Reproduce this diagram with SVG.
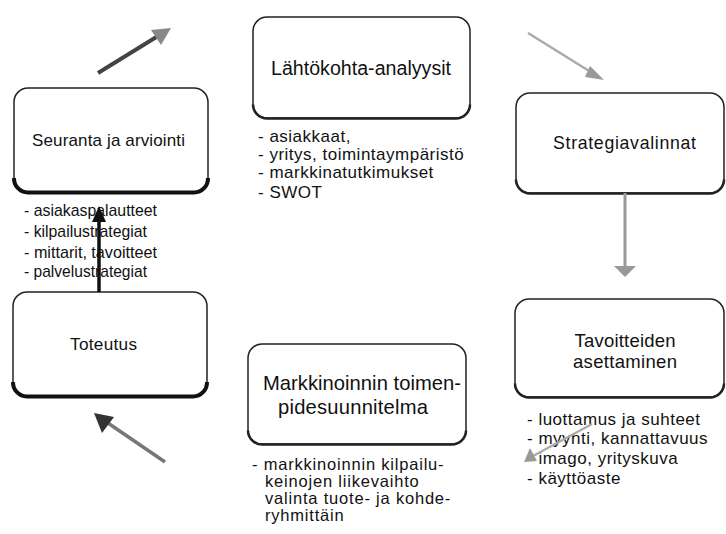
<svg xmlns="http://www.w3.org/2000/svg" width="726" height="534" viewBox="0 0 726 534">
<style>
.box{fill:#fff;stroke:#222;stroke-width:1.5}
.sh{fill:none;stroke:#222;stroke-width:2.5}
.sh2{fill:none;stroke:#111;stroke-width:4}
.t{font-family:"Liberation Sans",Arial,sans-serif;fill:#111;text-anchor:middle}
.a{font-family:"Liberation Sans",Arial,sans-serif;font-size:17px;fill:#111;letter-spacing:0.5px}
.m{font-family:"Liberation Sans",Arial,sans-serif;font-size:16.5px;fill:#111;letter-spacing:0.8px}
.n{font-family:"Liberation Sans",Arial,sans-serif;font-size:17px;fill:#111}
</style>
<rect width="726" height="534" fill="#fff"/>
<g id="n-lahtokohta">
<rect class="box" x="253" y="17" width="217" height="101" rx="14"/>
<path class="sh" d="M253,104.5 A14,14 0 0 0 267,118.5 L456,118.5 A14,14 0 0 0 470,104.5"/>
<text class="t" x="361" y="75" style="font-size:19.6px" textLength="180" lengthAdjust="spacing">Lähtökohta-analyysit</text>
<text class="a" x="258" y="142">- asiakkaat,</text>
<text class="a" x="258" y="160">- yritys, toimintaympäristö</text>
<text class="a" x="258" y="178">- markkinatutkimukset</text>
<text class="a" x="258" y="198">- SWOT</text>
</g>
<g id="n-strategia">
<rect class="box" x="516" y="93" width="208" height="100" rx="14"/>
<path class="sh" d="M516,179.5 A14,14 0 0 0 530,193.5 L710,193.5 A14,14 0 0 0 724,179.5"/>
<text class="t" x="624.5" y="149" style="font-size:17.7px" textLength="143" lengthAdjust="spacing">Strategiavalinnat</text>
</g>
<g id="n-tavoitteet">
<rect class="box" x="515" y="299" width="209" height="98" rx="14"/>
<path class="sh" d="M515,383.5 A14,14 0 0 0 529,397.5 L710,397.5 A14,14 0 0 0 724,383.5"/>
<text class="t" x="625" y="347" style="font-size:18.5px" textLength="101" lengthAdjust="spacing">Tavoitteiden</text>
<text class="t" x="625" y="368" style="font-size:18.5px" textLength="104" lengthAdjust="spacing">asettaminen</text>
<text class="a" x="527" y="425">- luottamus ja suhteet</text>
<text class="a" x="527" y="444">- myynti, kannattavuus</text>
<text class="a" x="527" y="464">- imago, yrityskuva</text>
<text class="a" x="527" y="484">- käyttöaste</text>
</g>
<g id="n-toimenpide">
<rect class="box" x="248" y="344" width="218" height="100" rx="14"/>
<path class="sh" d="M248,430.5 A14,14 0 0 0 262,444.5 L452,444.5 A14,14 0 0 0 466,430.5"/>
<text class="t" x="362" y="390" style="font-size:20.2px" textLength="198" lengthAdjust="spacing">Markkinoinnin toimen-</text>
<text class="t" x="353" y="414" style="font-size:20.2px" textLength="150" lengthAdjust="spacing">pidesuunnitelma</text>
<text class="m" x="252" y="470">- markkinoinnin kilpailu-</text>
<text class="m" x="265" y="487">keinojen liikevaihto</text>
<text class="m" x="265" y="504">valinta tuote- ja kohde-</text>
<text class="m" x="265" y="521">ryhmittäin</text>
</g>
<g id="n-toteutus">
<rect class="box" x="13" y="292" width="194" height="104" rx="14"/>
<path class="sh2" d="M13,382 A14,14 0 0 0 27,396.5 L193,396.5 A14,14 0 0 0 207,382"/>
<text class="t" x="103.5" y="350" style="font-size:17.2px" textLength="67" lengthAdjust="spacing">Toteutus</text>
</g>
<g id="n-seuranta">
<rect class="box" x="14" y="88" width="194" height="104" rx="14"/>
<path class="sh2" d="M14,178 A14,14 0 0 0 28,192.5 L194,192.5 A14,14 0 0 0 208,178"/>
<text class="t" x="108.5" y="146" style="font-size:17px" textLength="153" lengthAdjust="spacing">Seuranta ja arviointi</text>
<text class="n" x="24" y="216" textLength="133" lengthAdjust="spacingAndGlyphs">- asiakaspalautteet</text>
<text class="n" x="24" y="237" textLength="123" lengthAdjust="spacingAndGlyphs">- kilpailustrategiat</text>
<text class="n" x="24" y="258" textLength="133" lengthAdjust="spacingAndGlyphs">- mittarit, tavoitteet</text>
<text class="n" x="24" y="277" textLength="123" lengthAdjust="spacingAndGlyphs">- palvelustrategiat</text>
</g>
<g id="connectors">
<line x1="98" y1="73" x2="158" y2="36" stroke="#444" stroke-width="4"/>
<polygon points="171,28 151,30 161,45" fill="#888"/>
<line x1="528" y1="33" x2="594" y2="74" stroke="#aaa" stroke-width="2.5"/>
<polygon points="604,80 590,66 585,77" fill="#999"/>
<line x1="625" y1="193" x2="625" y2="268" stroke="#999" stroke-width="3"/>
<polygon points="625,277 614,266 636,266" fill="#999"/>
<line x1="592" y1="424" x2="533" y2="456" stroke="#aaa" stroke-width="2"/>
<polygon points="524,462 530,448 537,461" fill="#999"/>
<line x1="165" y1="462" x2="105" y2="421" stroke="#777" stroke-width="3.5"/>
<polygon points="94,413 114,417 102,433" fill="#333"/>
<line x1="99" y1="292" x2="99" y2="218" stroke="#111" stroke-width="3.5"/>
<polygon points="99,206 92,222 106,222" fill="#111"/>
</g>
</svg>
